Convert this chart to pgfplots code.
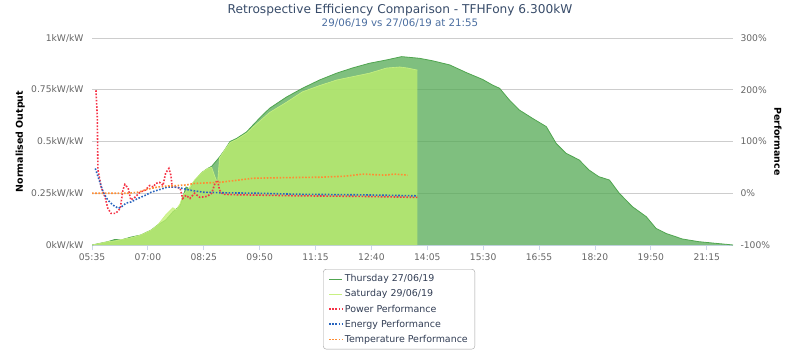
\documentclass[border=0pt]{standalone}
\usepackage{fontspec}
\setmainfont{DejaVu Sans}
\usepackage{pgfplots}
\usepackage{pgfplotstable}
\pgfplotsset{compat=1.18}
\definecolor{thu}{RGB}{84,170,84}
\definecolor{thuline}{RGB}{80,165,80}
\definecolor{sat}{RGB}{192,240,110}
\definecolor{satline}{RGB}{200,240,130}
\definecolor{pw}{RGB}{245,50,70}
\definecolor{en}{RGB}{40,100,190}
\definecolor{tp}{RGB}{255,140,50}
\definecolor{gridc}{RGB}{205,205,205}
\definecolor{axc}{RGB}{204,214,235}
\definecolor{tickc}{RGB}{102,102,102}
\definecolor{titc}{RGB}{55,75,105}
\definecolor{subc}{RGB}{75,110,160}
\definecolor{legc}{RGB}{50,62,85}
\definecolor{legb}{RGB}{160,160,160}

\pgfplotstableread{
t v
335 0
359 0.016
370 0.027
379 0.024
394 0.038
409 0.048
425 0.072
435 0.097
447 0.12
458 0.16
469 0.19
478 0.28
484 0.27
491 0.31
502 0.35
511 0.37
517 0.38
529 0.425
537 0.46
545 0.5
555 0.515
570 0.546
580 0.58
592 0.62
605 0.66
631 0.715
655 0.757
681 0.797
707 0.83
731 0.855
757 0.878
783 0.894
806 0.91
833 0.902
853 0.89
879 0.87
905 0.832
929 0.80
944 0.773
955 0.757
970 0.70
985 0.652
1005 0.612
1026 0.572
1041 0.491
1056 0.443
1076 0.411
1091 0.362
1106 0.33
1122 0.314
1137 0.25
1157 0.185
1178 0.137
1193 0.08
1208 0.056
1233 0.029
1258 0.016
1284 0.008
1304 0.002
1310 0
}\thursday

\pgfplotstableread{
t v
335 0
359 0.016
370 0.02
394 0.035
409 0.048
425 0.072
435 0.097
447 0.145
458 0.18
463 0.17
469 0.2
473 0.24
476 0.25
481 0.27
491 0.314
502 0.35
511 0.37
517 0.375
522 0.33
526 0.30
529 0.42
537 0.46
545 0.495
555 0.51
570 0.54
580 0.57
605 0.64
631 0.69
655 0.74
681 0.77
707 0.797
731 0.813
757 0.83
783 0.855
803 0.86
815 0.855
830 0.845
}\saturday

\pgfplotstableread{
t v
341 199
343 150
344 45
349 12
355 -8
359 -29
364 -39
371 -39
378 -29
382 6
385 17
390 10
394 -13
400 -8
408 2
416 6
423 15
428 12
432 19
438 21
443 15
447 39
452 48
455 35
457 12
461 12
469 10
473 -10
478 -4
484 -10
491 0
499 -8
510 -6
517 0
522 19
526 25
529 6
534 -2
560 -3
651 -5
742 -6
830 -8
}\power

\pgfplotstableread{
t v
340 48
347 21
352 2
359 -13
367 -23
375 -29
379 -27
387 -19
394 -17
405 -10
416 -4
425 2
435 6
450 12
461 12
470 10
484 6
504 2
529 1
586 0
651 -2
742 -3
830 -5
}\energy

\pgfplotstableread{
t v
335 0
390 0
405 2
420 8
435 12
450 14
466 15
478 16
491 19
529 21
555 25
580 29
620 30
681 31
720 33
747 37
780 35
795 37
815 35
}\temperature

\begin{document}
\begin{tikzpicture}[x=1bp,y=1bp]
\path[use as bounding box] (0,0) rectangle (800,354);
\node[font=\fontsize{12.2}{14}\selectfont, text=titc] at (400,344) {Retrospective Efficiency Comparison - TFHFony 6.300kW};
\node[font=\fontsize{10.3}{11}\selectfont, text=subc] at (400,331) {29/06/19 vs 27/06/19 at 21:55};

\begin{axis}[
  at={(92bp,109bp)}, anchor=south west,
  width=641bp, height=207bp, scale only axis,
  xmin=335, xmax=1310, ymin=0, ymax=1,
  axis x line*=bottom, axis y line*=left,
  y axis line style={draw=none},
  x axis line style={draw=axc, line width=0.8bp},
  xtick={335,420,505,590,675,760,845,930,1015,1100,1185,1270},
  xticklabels={05:35,07:00,08:25,09:50,11:15,12:40,14:05,15:30,16:55,18:20,19:50,21:15},
  xtick align=outside, major tick length=5bp,
  xtick style={draw=axc, line width=0.8bp},
  ytick={0,0.25,0.5,0.75,1},
  yticklabels={0kW/kW,0.25kW/kW,0.5kW/kW,0.75kW/kW,1kW/kW},
  ytick style={draw=none},
  ymajorgrids, major grid style={draw=gridc, line width=0.8bp},
  tick label style={font=\fontsize{9.2}{10}\selectfont, text=tickc},
  yticklabel style={xshift=-5bp},
  ylabel={Normalised Output},
  ylabel style={font=\fontsize{9.5}{10}\selectfont\bfseries, at={(axis description cs:-0.112,0.5)}, anchor=center, rotate=0},
  clip=true,
]
\addplot[draw=none, fill=thu, fill opacity=0.75] table {\thursday} \closedcycle;
\addplot[thuline, line width=0.8bp] table {\thursday};
\addplot[draw=none, fill=sat, fill opacity=0.75] table {\saturday} \closedcycle;
\addplot[satline, line width=0.6bp] table {\saturday};
\end{axis}

\begin{axis}[
  at={(92bp,109bp)}, anchor=south west,
  width=641bp, height=207bp, scale only axis,
  xmin=335, xmax=1310, ymin=-100, ymax=300,
  axis x line=none, axis y line*=right,
  y axis line style={draw=none},
  ytick={-100,0,100,200,300},
  yticklabels={-100\%,0\%,100\%,200\%,300\%},
  ytick style={draw=none},
  tick label style={font=\fontsize{9.2}{10}\selectfont, text=tickc},
  yticklabel style={xshift=4bp},
  ylabel={Performance},
  ylabel style={font=\fontsize{9.5}{10}\selectfont\bfseries, at={(axis description cs:1.070,0.5)}, anchor=center, rotate=180},
  legend style={at={(0.479,-0.116)}, anchor=north, draw=legb, rounded corners=3bp,
    font=\fontsize{9.5}{10}\selectfont, text=legc, row sep=2.4bp, inner xsep=5bp, inner ysep=3.5bp,
    cells={anchor=west}},
  legend image code/.code={\draw[#1] (0bp,0bp) -- (13bp,0bp);},
  legend cell align=left,
  dots/.style={line width=1.6bp, dash pattern=on 1.6bp off 1.6bp},
]
\addlegendimage{thuline, line width=1bp}
\addlegendentry{Thursday 27/06/19}
\addlegendimage{satline, line width=1bp}
\addlegendentry{Saturday 29/06/19}
\addplot[pw, dots] table {\power};
\addlegendentry{Power Performance}
\addplot[en, dots] table {\energy};
\addlegendentry{Energy Performance}
\addplot[tp, dots] table {\temperature};
\addlegendentry{Temperature Performance}
\end{axis}
\end{tikzpicture}
\end{document}
